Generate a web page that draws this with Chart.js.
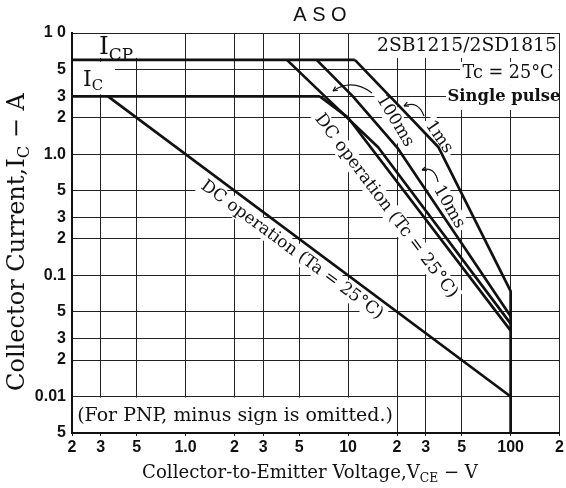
<!DOCTYPE html>
<html>
<head>
<meta charset="utf-8">
<script src="https://cdn.jsdelivr.net/npm/chart.js@4.4.0/dist/chart.umd.min.js"></script>
<style>
  html, body { margin: 0; padding: 0; background: #fff; }
</style>
</head>
<body>
<canvas id="aso" width="566" height="488"></canvas>
<script>
// tick positions and their printed labels
const xTicks = [0.2, 0.3, 0.5, 1, 2, 3, 5, 10, 20, 30, 50, 100, 200];
const xTickLabels = ["2", "3", "5", "1.0", "2", "3", "5", "10", "2", "3", "5", "100", "2"];
const yTicks = [0.005, 0.01, 0.02, 0.03, 0.05, 0.1, 0.2, 0.3, 0.5, 1, 2, 3, 5, 10];
const yTickLabels = ["5", "0.01", "2", "3", "5", "0.1", "2", "3", "5", "1.0", "2", "3", "5", "1 0"];

// limit lines, V_CE (V) and I_C (A)
const icpV = [0.2, 11];
const icpI = [6, 6];
const icV = [0.2, 6.7];
const icI = [3, 3];
const dcTaV = [0.333, 100];
const dcTaI = [3, 0.01];
const dcTcV = [6.7, 10, 100];
const dcTcI = [3, 2, 0.035];
const ms100V = [4.2, 7.2, 15.3, 100];
const ms100I = [6, 3, 1.14, 0.04];
const ms10V = [6.4, 10.7, 20, 100];
const ms10I = [6, 3, 1.14, 0.046];
const ms1V = [11, 20.3, 36, 100, 100];
const ms1I = [6, 2.55, 1.14, 0.074, 0.005];

const pts = (vs, is) => vs.map((v, i) => ({ x: v, y: is[i] }));
function limit(label, vs, is) {
  return {
    label: label,
    data: pts(vs, is),
    borderColor: "#111",
    borderWidth: 2.7,
    pointRadius: 0,
    tension: 0,
    fill: false,
    borderJoinStyle: "round",
  };
}

const serif = "'DejaVu Serif', 'Liberation Serif', serif";

// text made of parts, some of them subscript; size given, or chosen to fit a length
function partsWidth(ctx, parts, size, weight) {
  let w = 0;
  parts.forEach(p => {
    ctx.font = weight + " " + (p.sub ? size * 0.68 : size) + "px " + serif;
    w += ctx.measureText(p.t).width;
  });
  return w;
}
function drawParts(ctx, parts, cx, cy, angle, len, weight, mask, fixedSize) {
  const size = fixedSize || 20 * len / partsWidth(ctx, parts, 20, weight);
  const w = partsWidth(ctx, parts, size, weight);
  ctx.save();
  ctx.translate(cx, cy);
  ctx.rotate(angle);
  if (mask) {
    ctx.fillStyle = "#fff";
    ctx.fillRect(-w / 2 - 3, -size * 0.55, w + 6, size * 1.1);
  }
  ctx.fillStyle = "#111";
  ctx.textBaseline = "middle";
  ctx.textAlign = "left";
  let x = -w / 2;
  parts.forEach(p => {
    const s = p.sub ? size * 0.68 : size;
    ctx.font = weight + " " + s + "px " + serif;
    ctx.fillText(p.t, x, p.sub ? size * 0.3 : 0);
    x += ctx.measureText(p.t).width;
  });
  ctx.restore();
}
function arc(ctx, x0, y0, cx, cy, x1, y1) {
  ctx.beginPath();
  ctx.moveTo(x0, y0);
  ctx.quadraticCurveTo(cx, cy, x1, y1);
  ctx.stroke();
  // small head at the start
  const a = Math.atan2(y0 - cy, x0 - cx);
  ctx.beginPath();
  ctx.moveTo(x0, y0);
  ctx.lineTo(x0 - 5 * Math.cos(a - 0.45), y0 - 5 * Math.sin(a - 0.45));
  ctx.moveTo(x0, y0);
  ctx.lineTo(x0 - 5 * Math.cos(a + 0.45), y0 - 5 * Math.sin(a + 0.45));
  ctx.stroke();
}

const deco = {
  id: "deco",
  beforeDatasetsDraw(chart) {
    const { ctx, chartArea: a, scales: { x, y } } = chart;
    const deg = Math.PI / 180;
    ctx.save();
    ctx.fillStyle = "#fff";
    // blank areas where the sheet has its notes
    ctx.fillRect(a.left + 1, a.top + 1, x.getPixelForValue(0.98) - a.left - 2, y.getPixelForValue(6) - a.top - 3);
    ctx.fillRect(a.left + 1, y.getPixelForValue(6) + 2, 42, y.getPixelForValue(3) - y.getPixelForValue(6) - 4);
    ctx.fillRect(375, a.top + 1, a.right - 376, y.getPixelForValue(6) - a.top - 3);
    ctx.fillRect(460, y.getPixelForValue(6) + 2, a.right - 461, 24);
    ctx.fillRect(446, y.getPixelForValue(6) + 26, a.right - 447, 24);
    ctx.fillRect(a.left + 1, y.getPixelForValue(0.01) + 1, x.getPixelForValue(19) - a.left - 2, a.bottom - y.getPixelForValue(0.01) - 2);
    ctx.restore();

    drawParts(ctx, [{ t: "I" }, { t: "CP", sub: true }], 116, 48, 0, 34, "normal", false);
    drawParts(ctx, [{ t: "I" }, { t: "C", sub: true }], 93, 80, 0, 20, "normal", false);
    drawParts(ctx, [{ t: "2SB1215/2SD1815" }], 467, 46, 0, 180, "normal", false);
    drawParts(ctx, [{ t: "Tc = 25°C" }], 508, 73, 0, 91, "normal", false);
    drawParts(ctx, [{ t: "Single pulse" }], 504, 97, 0, 113, "bold", false);
    drawParts(ctx, [{ t: "(For PNP, minus sign is omitted.)" }], 235, 416, 0, 316, "normal", false);

    drawParts(ctx, [{ t: "100ms" }], 395, 121, 59 * deg, 0, "normal", true, 17);
    drawParts(ctx, [{ t: "1ms" }], 439, 137, 55 * deg, 0, "normal", true, 17);
    drawParts(ctx, [{ t: "10ms" }], 449, 207, 60 * deg, 0, "normal", true, 17);
    drawParts(ctx, [{ t: "DC operation (Tc = 25°C)" }], 386, 206, 53 * deg, 226, "normal", true);
    drawParts(ctx, [{ t: "DC operation (Ta = 25°C)" }], 292, 250, 36.4 * deg, 222, "normal", true);

    ctx.save();
    ctx.strokeStyle = "#111";
    ctx.lineWidth = 1.2;
    arc(ctx, 333, 91, 352, 78, 372, 93);
    arc(ctx, 404, 106, 418, 100, 424, 116);
    arc(ctx, 422, 170, 435, 166, 438, 182);
    ctx.restore();
  },
  afterDraw(chart) {
    const { ctx } = chart;
    ctx.save();
    ctx.fillStyle = "#111";
    ctx.font = "20px 'Liberation Sans', Arial, sans-serif";
    ctx.textAlign = "center";
    ctx.textBaseline = "middle";
    ctx.fillText("A S O", 320, 15);
    ctx.restore();
    drawParts(ctx, [{ t: "Collector-to-Emitter Voltage,V" }, { t: "CE", sub: true }, { t: " − V" }], 310, 473, 0, 336, "normal", false);
    drawParts(ctx, [{ t: "Collector Current,I" }, { t: "C", sub: true }, { t: " − A" }], 18, 242, -Math.PI / 2, 298, "normal", false);
  },
};

const tickFont = { family: "'Liberation Sans', Arial, sans-serif", size: 16, weight: "bold" };

new Chart(document.getElementById("aso"), {
  type: "line",
  data: {
    datasets: [
      limit("ICP", icpV, icpI),
      limit("IC", icV, icI),
      limit("DC Ta=25°C", dcTaV, dcTaI),
      limit("DC Tc=25°C", dcTcV, dcTcI),
      limit("100ms", ms100V, ms100I),
      limit("10ms", ms10V, ms10I),
      limit("1ms", ms1V, ms1I),
    ],
  },
  options: {
    responsive: false,
    animation: false,
    devicePixelRatio: 1,
    layout: { padding: { top: 33, right: 3, left: 0, bottom: 0 } },
    plugins: {
      legend: { display: false },
      tooltip: { enabled: false },
    },
    scales: {
      x: {
        type: "logarithmic",
        min: 0.2,
        max: 200,
        afterBuildTicks: s => { s.ticks = xTicks.map(v => ({ value: v })); },
        afterFit: s => { s.height = 55; },
        ticks: {
          autoSkip: false,
          maxRotation: 0,
          padding: 2,
          color: "#111",
          font: tickFont,
          callback: (v, i) => xTickLabels[i],
        },
        grid: { color: "#222", lineWidth: 1, tickLength: 3 },
        border: { color: "#111", width: 2 },
      },
      y: {
        type: "logarithmic",
        min: 0.005,
        max: 10,
        afterBuildTicks: s => { s.ticks = yTicks.map(v => ({ value: v })); },
        afterFit: s => { s.width = 72; },
        ticks: {
          autoSkip: false,
          padding: 6,
          color: "#111",
          font: tickFont,
          callback: (v, i) => yTickLabels[i],
        },
        grid: { color: "#222", lineWidth: 1, drawTicks: false },
        border: { color: "#111", width: 2 },
      },
    },
  },
  plugins: [deco],
});
</script>
</body>
</html>
